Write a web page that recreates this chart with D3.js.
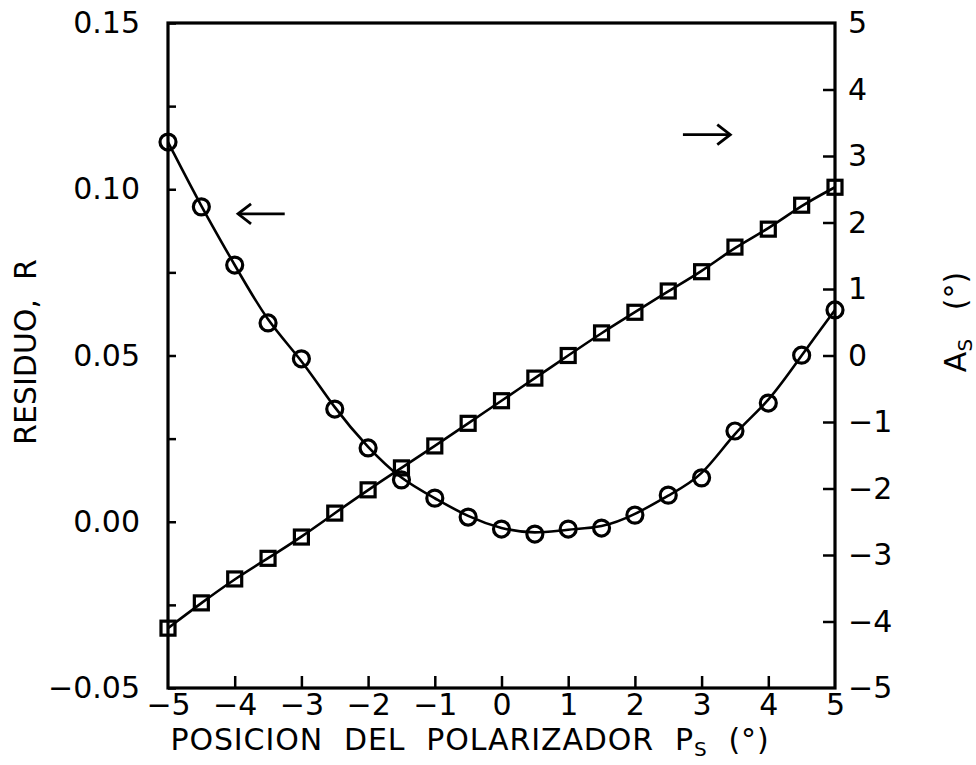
<!DOCTYPE html>
<html>
<head>
<meta charset="utf-8">
<script src="https://cdn.jsdelivr.net/npm/d3@7"></script>
<style>
  body { margin: 0; background: #fff; }
  text { font-family: "DejaVu Sans", sans-serif; fill: #000; }
</style>
</head>
<body>
<div id="chart"></div>
<script>
// polarizer position (deg)
var positions = [-5, -4.5, -4, -3.5, -3, -2.5, -2, -1.5, -1, -0.5, 0, 0.5, 1, 1.5, 2, 2.5, 3, 3.5, 4, 4.5, 5];
// residuo R (left axis, circles)
var residuo = [0.1142, 0.0947, 0.0772, 0.0598, 0.0490, 0.0339, 0.0222, 0.0126, 0.0071, 0.0014, -0.0022, -0.0037,
               -0.0022, -0.0019, 0.0020, 0.0080, 0.0132, 0.0273, 0.0357, 0.0501, 0.0637];
// As (right axis, squares)
var analizador = [-4.10, -3.72, -3.36, -3.05, -2.73, -2.37, -2.02, -1.69, -1.36, -1.02, -0.68, -0.34,
                  0.00, 0.34, 0.65, 0.97, 1.26, 1.63, 1.90, 2.26, 2.53];

var leftTicks = [-0.05, 0, 0.05, 0.10, 0.15];
var leftMinor = [-0.025, 0.025, 0.075, 0.125];
var rightTicks = [-5, -4, -3, -2, -1, 0, 1, 2, 3, 4, 5];
var bottomTicks = [-5, -4, -3, -2, -1, 0, 1, 2, 3, 4, 5];

// arrows pointing to each curve's axis
var arrows = [
  { x0: -3.95, x1: -3.25, y: 0.0926, axis: "left", dir: -1 },
  { x0: 2.72, x1: 3.43, y: 3.32, axis: "right", dir: 1 }
];

var width = 976, height = 765;
var pLeft = 168, pRight = 835, pTop = 23, pBottom = 688;

var svg = d3.select("#chart").append("svg")
    .attr("width", width)
    .attr("height", height);

var x = d3.scaleLinear().domain([-5, 5]).range([pLeft, pRight]);
var yL = d3.scaleLinear().domain([-0.05, 0.15]).range([pBottom, pTop]);
var yR = d3.scaleLinear().domain([-5, 5]).range([pBottom, pTop]);

// axes
var gl = svg.append("g")
    .attr("transform", "translate(" + pLeft + ",0)")
    .call(d3.axisLeft(yL).tickValues(leftTicks).tickFormat(d3.format(".2f")).tickSize(-8).tickPadding(28));
var glm = svg.append("g")
    .attr("transform", "translate(" + pLeft + ",0)")
    .call(d3.axisLeft(yL).tickValues(leftMinor).tickFormat("").tickSize(-8));
var gr = svg.append("g")
    .attr("transform", "translate(" + pRight + ",0)")
    .call(d3.axisRight(yR).tickValues(rightTicks).tickFormat(d3.format("d")).tickSize(-12).tickPadding(13));
var gb = svg.append("g")
    .attr("transform", "translate(0," + pBottom + ")")
    .call(d3.axisBottom(x).tickValues(bottomTicks).tickFormat(d3.format("d")).tickSize(-12).tickPadding(6));

[gl, glm, gr, gb].forEach(function(g) {
  g.select(".domain").remove();
  g.selectAll(".tick line").attr("stroke", "#000").attr("stroke-width", 2.5);
  g.selectAll(".tick text").style("font-size", "30px").style("font-family", "DejaVu Sans");
});
// end ticks would overdraw the frame
gb.selectAll(".tick line").filter(function(d) { return d === -5 || d === 5; }).remove();
gr.selectAll(".tick line").filter(function(d) { return d === -5 || d === 5; }).remove();

svg.append("rect")
    .attr("x", pLeft).attr("y", pTop)
    .attr("width", pRight - pLeft).attr("height", pBottom - pTop)
    .attr("fill", "none").attr("stroke", "#000").attr("stroke-width", 3.2);

// curves
var lineL = d3.line()
    .x(function(d, i) { return x(positions[i]); })
    .y(function(d) { return yL(d); })
    .curve(d3.curveBasis);
var lineR = d3.line()
    .x(function(d, i) { return x(positions[i]); })
    .y(function(d) { return yR(d); })
    .curve(d3.curveBasis);

svg.append("path").datum(residuo)
    .attr("d", lineL).attr("fill", "none").attr("stroke", "#000").attr("stroke-width", 2.6);
svg.append("path").datum(analizador)
    .attr("d", lineR).attr("fill", "none").attr("stroke", "#000").attr("stroke-width", 2.6);

svg.selectAll(".circ").data(residuo).enter().append("circle")
    .attr("class", "circ")
    .attr("cx", function(d, i) { return x(positions[i]); })
    .attr("cy", function(d) { return yL(d); })
    .attr("r", 8)
    .attr("fill", "none").attr("stroke", "#000").attr("stroke-width", 3.2);

var sq = 14;
svg.selectAll(".sq").data(analizador).enter().append("rect")
    .attr("class", "sq")
    .attr("x", function(d, i) { return x(positions[i]) - sq / 2; })
    .attr("y", function(d) { return yR(d) - sq / 2; })
    .attr("width", sq).attr("height", sq)
    .attr("fill", "none").attr("stroke", "#000").attr("stroke-width", 3.2);

// arrows
arrows.forEach(function(a) {
  var yy = a.axis === "left" ? yL(a.y) : yR(a.y);
  var x0 = x(a.x0), x1 = x(a.x1);
  var tip = a.dir < 0 ? x0 : x1;
  svg.append("line")
      .attr("x1", x0).attr("x2", x1).attr("y1", yy).attr("y2", yy)
      .attr("stroke", "#000").attr("stroke-width", 2.8);
  svg.append("path")
      .attr("d", "M" + (tip - a.dir * 13) + "," + (yy - 10) + "L" + tip + "," + yy + "L" + (tip - a.dir * 13) + "," + (yy + 10))
      .attr("fill", "none").attr("stroke", "#000").attr("stroke-width", 2.8);
});

// axis titles
var xt = svg.append("text")
    .attr("x", 470).attr("y", 750)
    .attr("text-anchor", "middle")
    .attr("xml:space", "preserve")
    .style("letter-spacing", "0.9px")
    .style("font-size", "30px");
xt.append("tspan").text("POSICION  DEL  POLARIZADOR  P");
xt.append("tspan").attr("dy", 6).style("font-size", "20px").text("S");
xt.append("tspan").attr("dy", -6).text("  (°)");

svg.append("text")
    .attr("transform", "translate(36,352) rotate(-90)")
    .attr("text-anchor", "middle")
    .attr("xml:space", "preserve")
    .style("font-size", "30px")
    .text("RESIDUO,  R");

var rt = svg.append("text")
    .attr("transform", "translate(966,322) rotate(-90)")
    .attr("text-anchor", "middle")
    .attr("xml:space", "preserve")
    .style("font-size", "30px");
rt.append("tspan").text("A");
rt.append("tspan").attr("dy", 6).style("font-size", "20px").text("S");
rt.append("tspan").attr("dy", -6).text("   (°)");
</script>
</body>
</html>
